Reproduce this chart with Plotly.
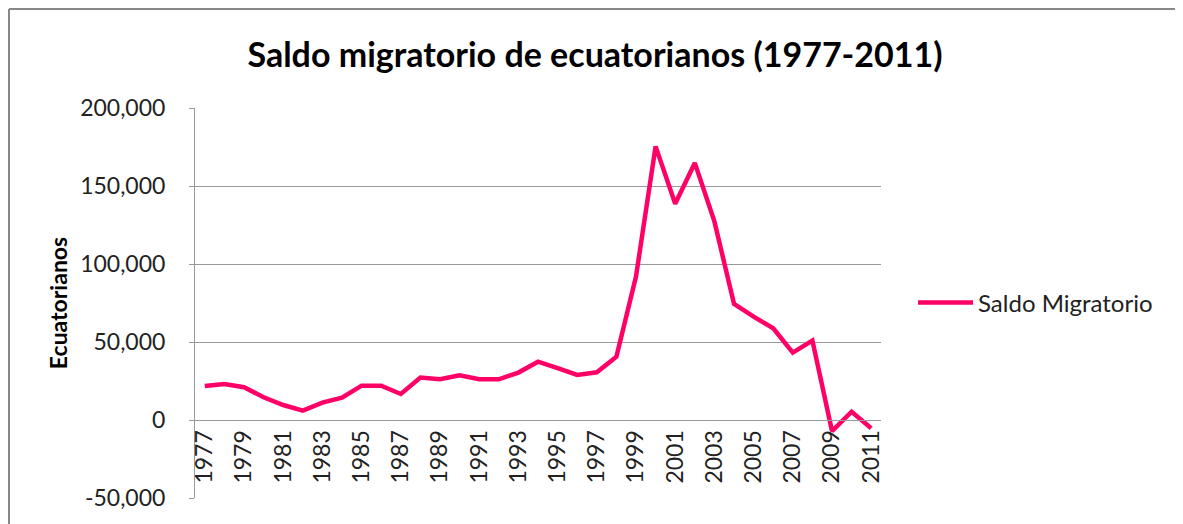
import plotly.graph_objects as go

years = [str(y) for y in range(1977, 2012)]
saldo = [21800, 23100, 21000, 14600, 9600, 6000, 11100, 14300, 22000, 22000,
         16700, 27200, 26100, 28700, 26100, 26100, 30400, 37400, 33200, 28900,
         30600, 40600, 92000, 175400, 138600, 164800, 127300, 74500, 66300, 58800,
         43200, 50900, -7100, 5300, -5300]
y_tickvals = [-50000, 0, 50000, 100000, 150000, 200000]
y_ticktext = ["-50,000", "0", "50,000", "100,000", "150,000", "200,000"]
x_tickvals = years[::2]

FONT = "Lato, 'Open Sans', sans-serif"
OFF = 8  # page body offset
W, H = 1183, 524
ML = 195 - OFF
MT = 108 - OFF
MR = OFF + W - 881
MB = OFF + H - 498

fig = go.Figure()
fig.add_trace(go.Scatter(
    x=years, y=saldo, mode="lines", name="Saldo Migratorio",
    line=dict(color="#FF0066", width=4.5),
))

pw = W - ML - MR
ph = H - MT - MB
bx = (1 - ML) / pw          # left border in paper coords
by = (H - MB - 1) / ph      # top border in paper coords

fig.update_layout(
    width=W, height=H,
    margin=dict(l=ML, r=MR, t=MT, b=MB, autoexpand=False),
    paper_bgcolor="white", plot_bgcolor="white",
    font=dict(family=FONT, color="#222222"),
    title=dict(text="<b>Saldo migratorio de ecuatorianos (1977-2011)</b>",
               x=(595 - OFF) / W, xref="container", xanchor="center",
               y=1 - (55 - OFF) / H, yref="container", yanchor="middle",
               font=dict(size=34, color="#000000", family=FONT)),
    showlegend=True,
    legend=dict(x=(913 - OFF - ML) / pw, xanchor="left", y=0.5, yanchor="middle",
                font=dict(size=24, color="#222222"), bgcolor="rgba(0,0,0,0)",
                itemwidth=55),
    xaxis=dict(type="category", range=[-0.5, 34.5], anchor="free", position=0.2,
               tickmode="array", tickvals=x_tickvals, ticktext=x_tickvals,
               tickangle=-90, tickfont=dict(size=23, color="#222222"),
               showgrid=False, showline=True, linecolor="#999999", linewidth=1,
               ticks="", zeroline=False, automargin=False),
    yaxis=dict(range=[-50000, 200000], tickmode="array", tickvals=y_tickvals,
               ticktext=y_ticktext, tickfont=dict(size=23, color="#222222"),
               showgrid=True, gridcolor="#999999", gridwidth=1,
               showline=True, linecolor="#999999", linewidth=1,
               ticks="outside", ticklen=5, tickcolor="#999999",
               ticklabelstandoff=19, zeroline=False, automargin=False,
               title=dict(text="<b>Ecuatorianos</b>", font=dict(size=23, color="#000000"),
                          standoff=6)),
    shapes=[
        dict(type="line", xref="paper", yref="paper", x0=bx, x1=bx + 2.0, y0=by, y1=by,
             line=dict(color="#888888", width=2), layer="below"),
        dict(type="line", xref="paper", yref="paper", x0=bx, x1=bx, y0=by, y1=-1.0,
             line=dict(color="#888888", width=2), layer="below"),
    ],
)

fig.write_html(
    "out.html",
    post_script="document.documentElement.style.overflow='hidden';"
                "document.body.style.overflow='hidden';",
)
